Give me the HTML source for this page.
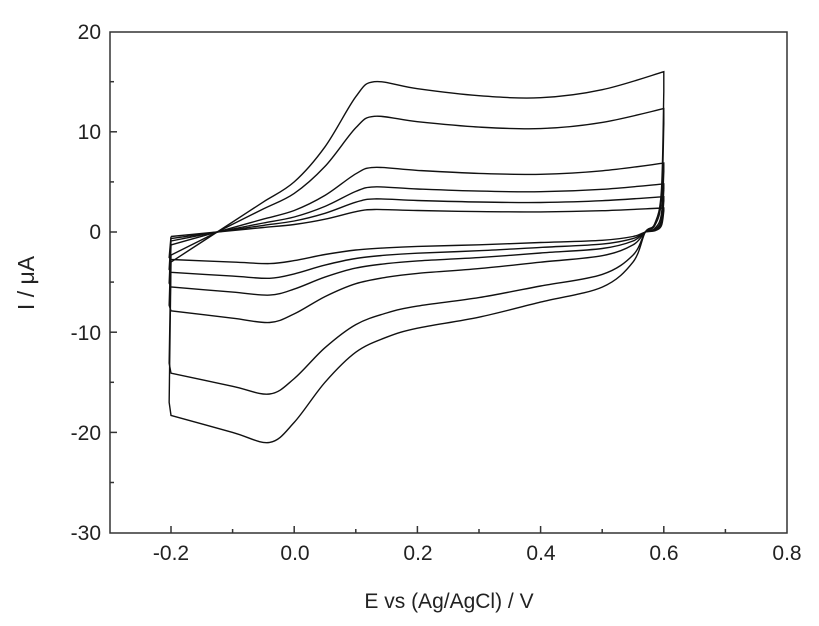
<!DOCTYPE html><html><head><style>body{margin:0;background:#fff}svg{display:block}</style></head><body>
<svg id="s" width="819" height="626" xmlns="http://www.w3.org/2000/svg" font-family="Liberation Sans, sans-serif">
<rect x="110" y="32" width="677" height="501" fill="none" stroke="#333" stroke-width="1.5"/>
<g fill="#222" font-size="21" text-anchor="middle">
<text x="171" y="560">-0.2</text><text x="295" y="560">0.0</text><text x="418" y="560">0.2</text><text x="541" y="560">0.4</text><text x="664" y="560">0.6</text><text x="787" y="560">0.8</text>
<text x="449" y="608">E vs (Ag/AgCl) / V</text>
</g>
<g fill="#222" font-size="21" text-anchor="end">
<text x="101" y="39">20</text><text x="101" y="139">10</text><text x="101" y="239">0</text><text x="101" y="340">-10</text><text x="101" y="440">-20</text><text x="101" y="540">-30</text>
</g>
<text transform="translate(34,283) rotate(-90)" font-size="23" fill="#222" text-anchor="middle">I / μA</text>
<g id="t" stroke="#333" stroke-width="1.5"></g>
<g id="c" fill="none" stroke="#111" stroke-width="1.4"></g>
</svg>
<script>
var X=v=>171+(v+0.2)*616,Y=i=>232-i*10.02;
var t='';
for(var k=0;k<11;k++){var v=-0.3+k*0.1,x=X(v);if(x>112&&x<785)t+=`<line x1="${x}" y1="533" x2="${x}" y2="${533-(k%2?7:4)}"/>`;}
for(var k=0;k<11;k++){var i=20-k*5,y=Y(i);if(y>34&&y<531)t+=`<line x1="110" y1="${y}" x2="${110+(k%2?4:7)}" y2="${y}"/>`;}
document.getElementById('t').innerHTML=t;
function cr(P){var d='M'+P[0][0].toFixed(1)+','+P[0][1].toFixed(1);for(var i=0;i<P.length-1;i++){var p0=P[i-1]||P[i],p1=P[i],p2=P[i+1],p3=P[i+2]||P[i+1];d+=` C${(p1[0]+(p2[0]-p0[0])/6).toFixed(1)},${(p1[1]+(p2[1]-p0[1])/6).toFixed(1)} ${(p2[0]-(p3[0]-p1[0])/6).toFixed(1)},${(p2[1]-(p3[1]-p1[1])/6).toFixed(1)} ${p2[0].toFixed(1)},${p2[1].toFixed(1)}`;}return d;}
var an=[[-0.2,-3],[-0.15,-1],[-0.1,1],[-0.05,3],[0,5],[0.05,8.5],[0.1,13.5],[0.13,15],[0.2,14.3],[0.3,13.6],[0.4,13.4],[0.5,14.2],[0.6,16]];
var ca=[[0.6,14],[0.596,4],[0.585,0.8],[0.57,0],[0.55,-3],[0.5,-5.5],[0.4,-7],[0.3,-8.5],[0.2,-9.6],[0.15,-10.5],[0.1,-12],[0.05,-15],[0,-19],[-0.04,-21],[-0.1,-20],[-0.2,-18.3]];
var S=[1,0.77,0.43,0.3,0.22,0.15],h='';
S.forEach(s=>{var m=q=>[X(q[0]),Y(q[1]*s)];var A=an.map(m),C=ca.map(m);
h+=`<path d="${cr(A)} L${C[0][0]},${C[0][1]} ${cr(C).replace(/^M/,'L')} L${X(-0.203)},${Y(-17*s)} L${X(-0.2)},${Y(-3*s)}"/>`;});
document.getElementById('c').innerHTML=h;
</script>
</body></html>
